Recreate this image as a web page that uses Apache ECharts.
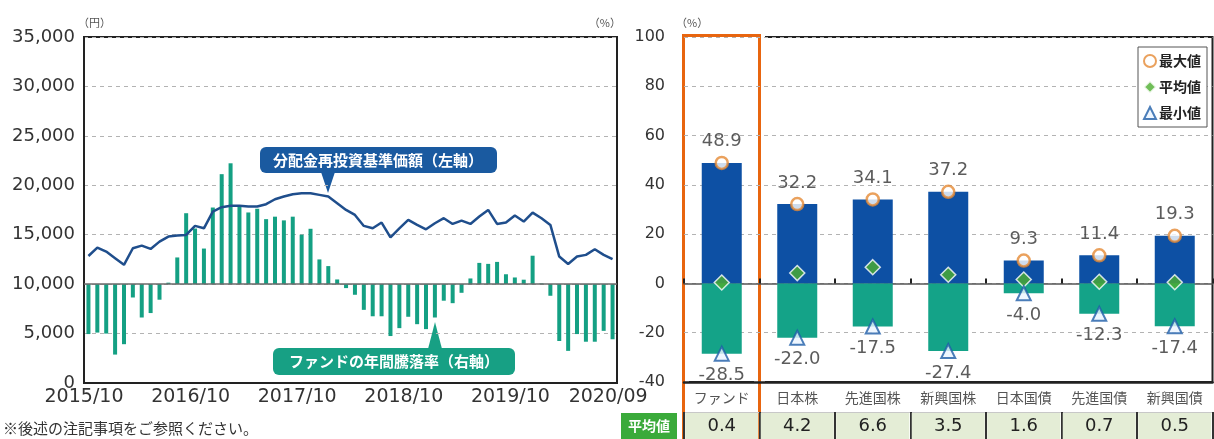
<!DOCTYPE html>
<html>
<head>
<meta charset="utf-8">
<script src="https://cdn.jsdelivr.net/npm/echarts@6/dist/echarts.min.js"></script>
<style>
html, body { margin: 0; padding: 0; background: #fff; }
#main { width: 1214px; height: 439px; }
</style>
</head>
<body>
<div id="main"></div>
<script>
//===============月次の時間軸 2015/10 - 2020/09=================
var months = [];
for (var i = 0; i < 60; i++) {
    var m = 9 + i;
    var yy = 2015 + Math.floor(m / 12);
    var mm = (m % 12) + 1;
    months.push(yy + '/' + (mm < 10 ? '0' + mm : mm));
}
var tickLabels = ['2015/10', '2016/10', '2017/10', '2018/10', '2019/10', '2020/09'];

// 分配金再投資基準価額(円)
var navValues = [
    12850, 13700, 13290, 12620, 11950, 13630, 13900, 13560, 14300, 14810,
    14910, 14980, 15890, 15650, 17340, 17780, 17920, 17920, 17850, 17850,
    18090, 18590, 18860, 19100, 19200, 19200, 19030, 18860, 18190, 17510,
    17000, 15890, 15650, 16230, 14740, 15650, 16500, 15990, 15550, 16160,
    16670, 16090, 16430, 16090, 16840, 17510, 16090, 16230, 16940, 16330,
    17240, 16670, 15990, 12790, 12040, 12790, 12960, 13530, 12960, 12520
];
// ファンドの年間騰落率(%)
var returnValues = [
    -20.2, -19.6, -20.0, -28.5, -24.3, -5.4, -13.5, -11.7, -6.3, 0.6,
    10.8, 28.7, 22.5, 14.4, 31.0, 44.5, 48.9, 31.4, 29.0, 30.5,
    26.3, 27.3, 25.8, 27.3, 20.0, 22.4, 10.0, 7.3, 1.9, -1.6,
    -4.3, -10.4, -13.0, -13.0, -21.0, -17.8, -13.2, -16.2, -18.2, -13.5,
    -6.7, -7.7, -3.5, 2.3, 8.6, 8.2, 9.0, 4.0, 2.7, 1.8,
    11.5, 0.3, -4.7, -23.0, -27.0, -20.2, -23.3, -23.3, -18.9, -22.3
];

//===============資産クラス比較=================
var categories = ['ファンド', '日本株', '先進国株', '新興国株', '日本国債', '先進国債', '新興国債'];
var maxValues = [48.9, 32.2, 34.1, 37.2, 9.3, 11.4, 19.3];
var avgValues = [0.4, 4.2, 6.6, 3.5, 1.6, 0.7, 0.5];
var minValues = [-28.5, -22.0, -17.5, -27.4, -4.0, -12.3, -17.4];

var NUM_FONT = "'DejaVu Sans', 'Noto Sans CJK JP', sans-serif";
var JP_FONT = "'Noto Sans CJK JP', sans-serif";
var dashLine = { color: '#b3b3b3', type: [4, 4], width: 1 };

var navData = navValues.map(function (v, i) { return [i, v]; });
var retData = returnValues.map(function (v, i) { return [i, v]; });
var tickPos = tickLabels.map(function (l) { return months.indexOf(l) - 0.5; });

function fmt1(p) { return p.value.toFixed(1); }

var myChart = echarts.init(document.getElementById('main'));
var option = {
    animation: false,
    textStyle: { fontFamily: NUM_FONT },
    grid: [
        { left: 84, top: 37, width: 533, height: 346, show: true, borderColor: '#222', borderWidth: 2 },
        { left: 684, top: 37, width: 532, height: 346, show: true, borderColor: '#222', borderWidth: 2 }
    ],
    legend: {
        data: ['最大値', '平均値', '最小値'],
        orient: 'vertical',
        right: 7,
        top: 47,
        backgroundColor: '#fff',
        borderColor: '#555',
        borderWidth: 1,
        padding: [7, 6, 7, 5],
        itemGap: 12,
        itemWidth: 12,
        itemHeight: 12,
        textStyle: { fontSize: 14, fontWeight: 'bold', color: '#222', fontFamily: JP_FONT, padding: [0, 0, 0, -2] }
    },
    xAxis: [{
        type: 'value',
        gridIndex: 0,
        min: -0.5,
        max: 59.5,
        axisLine: { show: true, onZero: false, lineStyle: { color: '#222', width: 2 } },
        axisTick: { show: false },
        splitLine: { show: false },
        axisLabel: {
            customValues: tickPos,
            formatter: function (v) { return months[Math.round(v + 0.5)]; },
            fontSize: 19,
            color: '#333',
            margin: 5
        }
    }, {
        type: 'category',
        gridIndex: 1,
        data: categories,
        axisLine: { show: true, onZero: true, lineStyle: { color: '#555', width: 1.5 } },
        axisTick: { show: true, inside: true, length: 5, lineStyle: { color: '#222', width: 2 } },
        axisLabel: { show: false },
        splitLine: { show: false }
    }, {
        type: 'category',
        gridIndex: 1,
        data: categories,
        position: 'bottom',
        axisLine: { show: true, onZero: false, lineStyle: { color: '#222', width: 2.5 } },
        axisTick: { show: false },
        axisLabel: { fontSize: 14, color: '#555', margin: 9, fontFamily: JP_FONT }
    }, {
        type: 'category',
        gridIndex: 1,
        data: avgValues.map(function (v) { return v.toFixed(1); }),
        position: 'bottom',
        offset: 30,
        axisLine: { show: true, onZero: false, lineStyle: { color: '#c8c8c8', width: 1 } },
        axisTick: { show: true, length: 27, lineStyle: { color: '#333', width: 2 } },
        axisLabel: {
            margin: 1,
            backgroundColor: '#e4edd6',
            width: 73,
            height: 26,
            lineHeight: 26,
            align: 'center',
            fontSize: 18,
            color: '#222'
        }
    }],
    yAxis: [{
        type: 'value',
        gridIndex: 0,
        position: 'left',
        min: 0,
        max: 35000,
        interval: 5000,
        name: '（円）',
        nameLocation: 'end',
        nameGap: 9,
        nameTextStyle: { fontSize: 11, color: '#555', align: 'left', padding: [0, 0, 0, -6], fontFamily: JP_FONT },
        axisLine: { show: true, onZero: false, lineStyle: { color: '#222', width: 2 } },
        axisTick: { show: false },
        axisLabel: {
            fontSize: 18,
            color: '#333',
            margin: 9,
            formatter: function (v) { return v.toLocaleString('en-US'); }
        },
        splitLine: { show: true, lineStyle: dashLine }
    }, {
        type: 'value',
        gridIndex: 0,
        position: 'right',
        min: -40,
        max: 100,
        interval: 20,
        name: '（%）',
        nameLocation: 'end',
        nameGap: 9,
        nameTextStyle: { fontSize: 11, color: '#555', align: 'right', padding: [0, -4, 0, 0], fontFamily: JP_FONT },
        axisLine: { show: false, onZero: false },
        axisTick: { show: false },
        axisLabel: { show: false },
        splitLine: { show: false }
    }, {
        type: 'value',
        gridIndex: 1,
        min: -40,
        max: 100,
        interval: 20,
        name: '（%）',
        nameLocation: 'end',
        nameGap: 9,
        nameTextStyle: { fontSize: 11, color: '#555', align: 'left', padding: [0, 0, 0, -8], fontFamily: JP_FONT },
        axisLine: { show: false, onZero: false },
        axisTick: { show: false },
        axisLabel: { fontSize: 16, color: '#333', margin: 19 },
        splitLine: { show: true, lineStyle: dashLine }
    }],
    series: [{
        name: '年間騰落率',
        type: 'bar',
        xAxisIndex: 0,
        yAxisIndex: 1,
        data: retData,
        barWidth: 4,
        itemStyle: { color: '#14a083' },
        markLine: {
            silent: true,
            symbol: 'none',
            label: { show: false },
            lineStyle: { color: '#6a6a6a', type: 'solid', width: 1.5 },
            data: [{ yAxis: 0 }]
        }
    }, {
        name: '分配金再投資基準価額',
        type: 'line',
        xAxisIndex: 0,
        yAxisIndex: 0,
        data: navData,
        symbol: 'none',
        z: 5,
        lineStyle: { color: '#1f4e8c', width: 2.5 }
    }, {
        name: 'maxBar',
        type: 'bar',
        xAxisIndex: 1,
        yAxisIndex: 2,
        data: maxValues,
        barWidth: 40,
        barGap: '-100%',
        itemStyle: { color: '#0d50a4' }
    }, {
        name: 'minBar',
        type: 'bar',
        xAxisIndex: 1,
        yAxisIndex: 2,
        data: minValues,
        barWidth: 40,
        barGap: '-100%',
        itemStyle: { color: '#14a388' }
    }, {
        name: '最大値',
        type: 'scatter',
        xAxisIndex: 1,
        yAxisIndex: 2,
        data: maxValues,
        symbol: 'circle',
        symbolSize: 12,
        z: 6,
        itemStyle: { color: '#fff', borderColor: '#e58a35', borderWidth: 2.5 },
        label: { show: true, position: 'top', distance: 5, formatter: fmt1, fontSize: 18, color: '#333' }
    }, {
        name: '平均値',
        type: 'scatter',
        xAxisIndex: 1,
        yAxisIndex: 2,
        data: avgValues,
        symbol: 'diamond',
        symbolSize: 15,
        z: 6,
        itemStyle: { color: '#4cae2e', borderColor: '#fff', borderWidth: 1.5 }
    }, {
        name: '最小値',
        type: 'scatter',
        xAxisIndex: 1,
        yAxisIndex: 2,
        data: minValues,
        symbol: 'triangle',
        symbolSize: 14,
        z: 6,
        itemStyle: { color: '#eaf4ff', borderColor: '#1f5ea8', borderWidth: 2 },
        label: { show: true, position: 'bottom', distance: 5, formatter: fmt1, fontSize: 18, color: '#333' }
    }],
    graphic: [{
        // 分配金再投資基準価額の吹き出し
        type: 'group',
        z: 100,
        children: [{
            type: 'rect',
            shape: { x: 260, y: 147, width: 237, height: 26, r: 6 },
            style: { fill: '#1a5aa0' }
        }, {
            type: 'polygon',
            shape: { points: [[321, 172], [335, 172], [328, 193]] },
            style: { fill: '#1a5aa0' }
        }, {
            type: 'text',
            x: 378, y: 160,
            style: { text: '分配金再投資基準価額（左軸）', fill: '#fff', fontSize: 15, fontWeight: 'bold', fontFamily: JP_FONT, align: 'center', verticalAlign: 'middle' }
        }]
    }, {
        // 年間騰落率の吹き出し
        type: 'group',
        z: 100,
        children: [{
            type: 'rect',
            shape: { x: 273, y: 348, width: 242, height: 27, r: 6 },
            style: { fill: '#17a084' }
        }, {
            type: 'polygon',
            shape: { points: [[428, 349], [442, 349], [435, 322]] },
            style: { fill: '#17a084' }
        }, {
            type: 'text',
            x: 394, y: 361.5,
            style: { text: 'ファンドの年間騰落率（右軸）', fill: '#fff', fontSize: 15, fontWeight: 'bold', fontFamily: JP_FONT, align: 'center', verticalAlign: 'middle' }
        }]
    }, {
        // ファンド枠
        type: 'group',
        z: 100,
        children: [{
            type: 'rect',
            shape: { x: 683.5, y: 35.5, width: 76, height: 420 },
            style: { fill: 'none', stroke: '#fff', lineWidth: 11 }
        }, {
            type: 'rect',
            shape: { x: 683.5, y: 35.5, width: 76, height: 420 },
            style: { fill: 'none', stroke: '#e8650f', lineWidth: 3 }
        }]
    }, {
        type: 'group',
        z: 100,
        children: [{
            type: 'rect',
            shape: { x: 621, y: 413, width: 56, height: 26 },
            style: { fill: '#3aaa3a' }
        }, {
            type: 'text',
            x: 649, y: 426,
            style: { text: '平均値', fill: '#fff', fontSize: 14, fontWeight: 'bold', fontFamily: JP_FONT, align: 'center', verticalAlign: 'middle' }
        }]
    }, {
        type: 'text',
        x: 3, y: 428,
        z: 100,
        style: { text: '※後述の注記事項をご参照ください。', fill: '#333', fontSize: 15, fontFamily: JP_FONT, verticalAlign: 'middle' }
    }]
};
myChart.setOption(option);
</script>
</body>
</html>
